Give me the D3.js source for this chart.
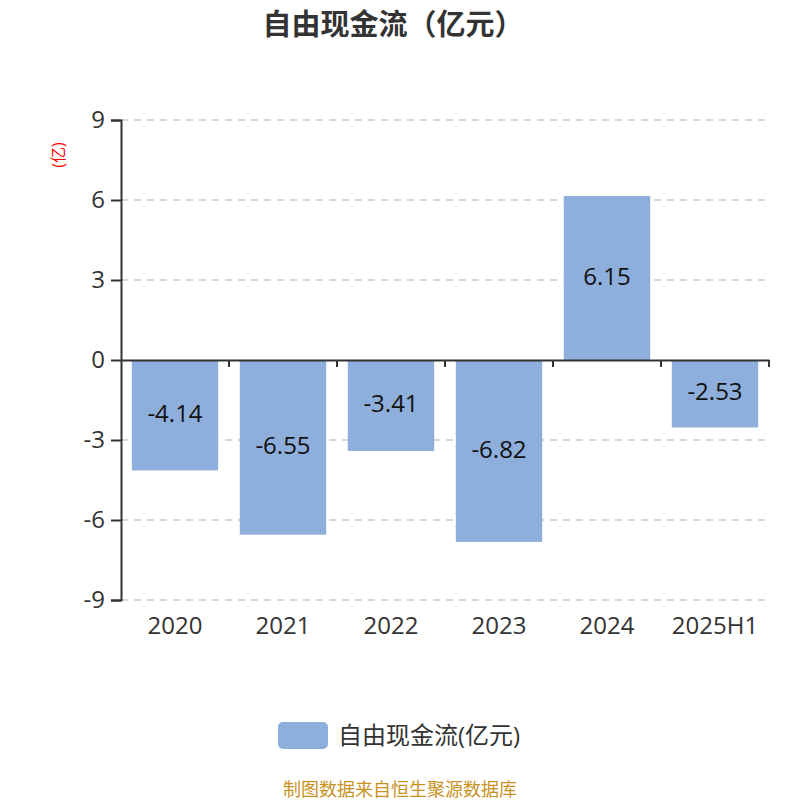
<!DOCTYPE html>
<html lang="zh">
<head>
  <meta charset="UTF-8">
  <title>自由现金流（亿元）</title>
  <script src="https://d3js.org/d3.v7.min.js"></script>
  <style>
    body { margin: 0; background: #fff; }
    text { font-family: 'Open Sans', 'Noto Sans CJK SC', sans-serif; }
  </style>
</head>
<body>
  <svg width="800" height="800"></svg>
  <script>
    // Data
    const years = ["2020", "2021", "2022", "2023", "2024", "2025H1"];
    const cashFlow = [-4.14, -6.55, -3.41, -6.82, 6.15, -2.53];
    const yTicks = [-9, -6, -3, 0, 3, 6, 9];

    const svg = d3.select("svg");
    const margin = { top: 120, right: 31, bottom: 200, left: 121 };
    const width = 800 - margin.left - margin.right;
    const height = 800 - margin.top - margin.bottom;
    const g = svg.append("g").attr("transform", `translate(${margin.left},${margin.top})`);

    const x = d3.scaleBand().domain(years).range([0, width]).paddingInner(0.2).paddingOuter(0.1);
    const xb = d3.scaleBand().domain(years).range([0, width]);
    const y = d3.scaleLinear().domain([-9, 9]).range([height, 0]);

    // Grid lines
    g.selectAll("line.grid")
      .data(yTicks.filter(d => d !== 0))
      .enter().append("line")
      .attr("x1", 0).attr("x2", width)
      .attr("y1", d => y(d)).attr("y2", d => y(d))
      .attr("stroke", "#cccccc")
      .attr("stroke-width", 1.5)
      .attr("stroke-dasharray", "7,6");

    // Bars
    g.selectAll("rect.bar")
      .data(cashFlow)
      .enter().append("rect")
      .attr("x", (d, i) => x(years[i]))
      .attr("width", x.bandwidth())
      .attr("y", d => y(Math.max(0, d)))
      .attr("height", d => Math.abs(y(d) - y(0)))
      .attr("fill", "#8eaedb");

    // Value labels
    g.selectAll("text.val")
      .data(cashFlow)
      .enter().append("text")
      .attr("x", (d, i) => x(years[i]) + x.bandwidth() / 2)
      .attr("y", d => (y(d) + y(0)) / 2)
      .attr("dy", "0.28em")
      .attr("text-anchor", "middle")
      .attr("font-size", 24)
      .attr("fill", "#111")
      .text(d => d.toFixed(2));

    // Y axis (plain hyphen for negatives)
    const yAxis = g.append("g")
      .call(d3.axisLeft(y).tickValues(yTicks).tickSize(10).tickPadding(6).tickFormat(d => String(d)));
    yAxis.selectAll("text").attr("font-size", 24).attr("fill", "#333");
    yAxis.selectAll("line, path").attr("stroke", "#333").attr("stroke-width", 2);

    // X axis at zero
    const xAxis = g.append("g")
      .attr("transform", `translate(0,${y(0)})`)
      .call(d3.axisBottom(xb).tickSize(0).tickFormat(""));
    xAxis.select("path").attr("stroke", "#333").attr("stroke-width", 2);
    g.selectAll("line.xtick")
      .data(years)
      .enter().append("line")
      .attr("x1", d => xb(d) + xb.bandwidth())
      .attr("x2", d => xb(d) + xb.bandwidth())
      .attr("y1", y(0)).attr("y2", y(0) + 7)
      .attr("stroke", "#333").attr("stroke-width", 2);

    // Category labels below the plot
    g.selectAll("text.cat")
      .data(years)
      .enter().append("text")
      .attr("x", d => xb(d) + xb.bandwidth() / 2)
      .attr("y", height + 34)
      .attr("text-anchor", "middle")
      .attr("font-size", 24)
      .attr("fill", "#333")
      .text(d => d);

    // Y unit label
    svg.append("text")
      .attr("transform", "translate(64,155) rotate(-90)")
      .attr("text-anchor", "middle")
      .attr("font-size", 16)
      .attr("fill", "red")
      .text("(亿)");

    // Title
    svg.append("text")
      .attr("x", 393).attr("y", 35)
      .attr("text-anchor", "middle")
      .attr("font-size", 29)
      .attr("font-weight", "bold")
      .attr("fill", "#333")
      .text("自由现金流（亿元）");

    // Legend
    svg.append("rect")
      .attr("x", 278).attr("y", 722)
      .attr("width", 50).attr("height", 27)
      .attr("rx", 5)
      .attr("fill", "#8eaedb");
    svg.append("text")
      .attr("x", 338).attr("y", 744)
      .attr("font-size", 24)
      .attr("fill", "#333")
      .text("自由现金流(亿元)");

    // Footer
    svg.append("text")
      .attr("x", 400).attr("y", 796)
      .attr("text-anchor", "middle")
      .attr("font-size", 18)
      .attr("fill", "#c8921e")
      .text("制图数据来自恒生聚源数据库");
  </script>
</body>
</html>
